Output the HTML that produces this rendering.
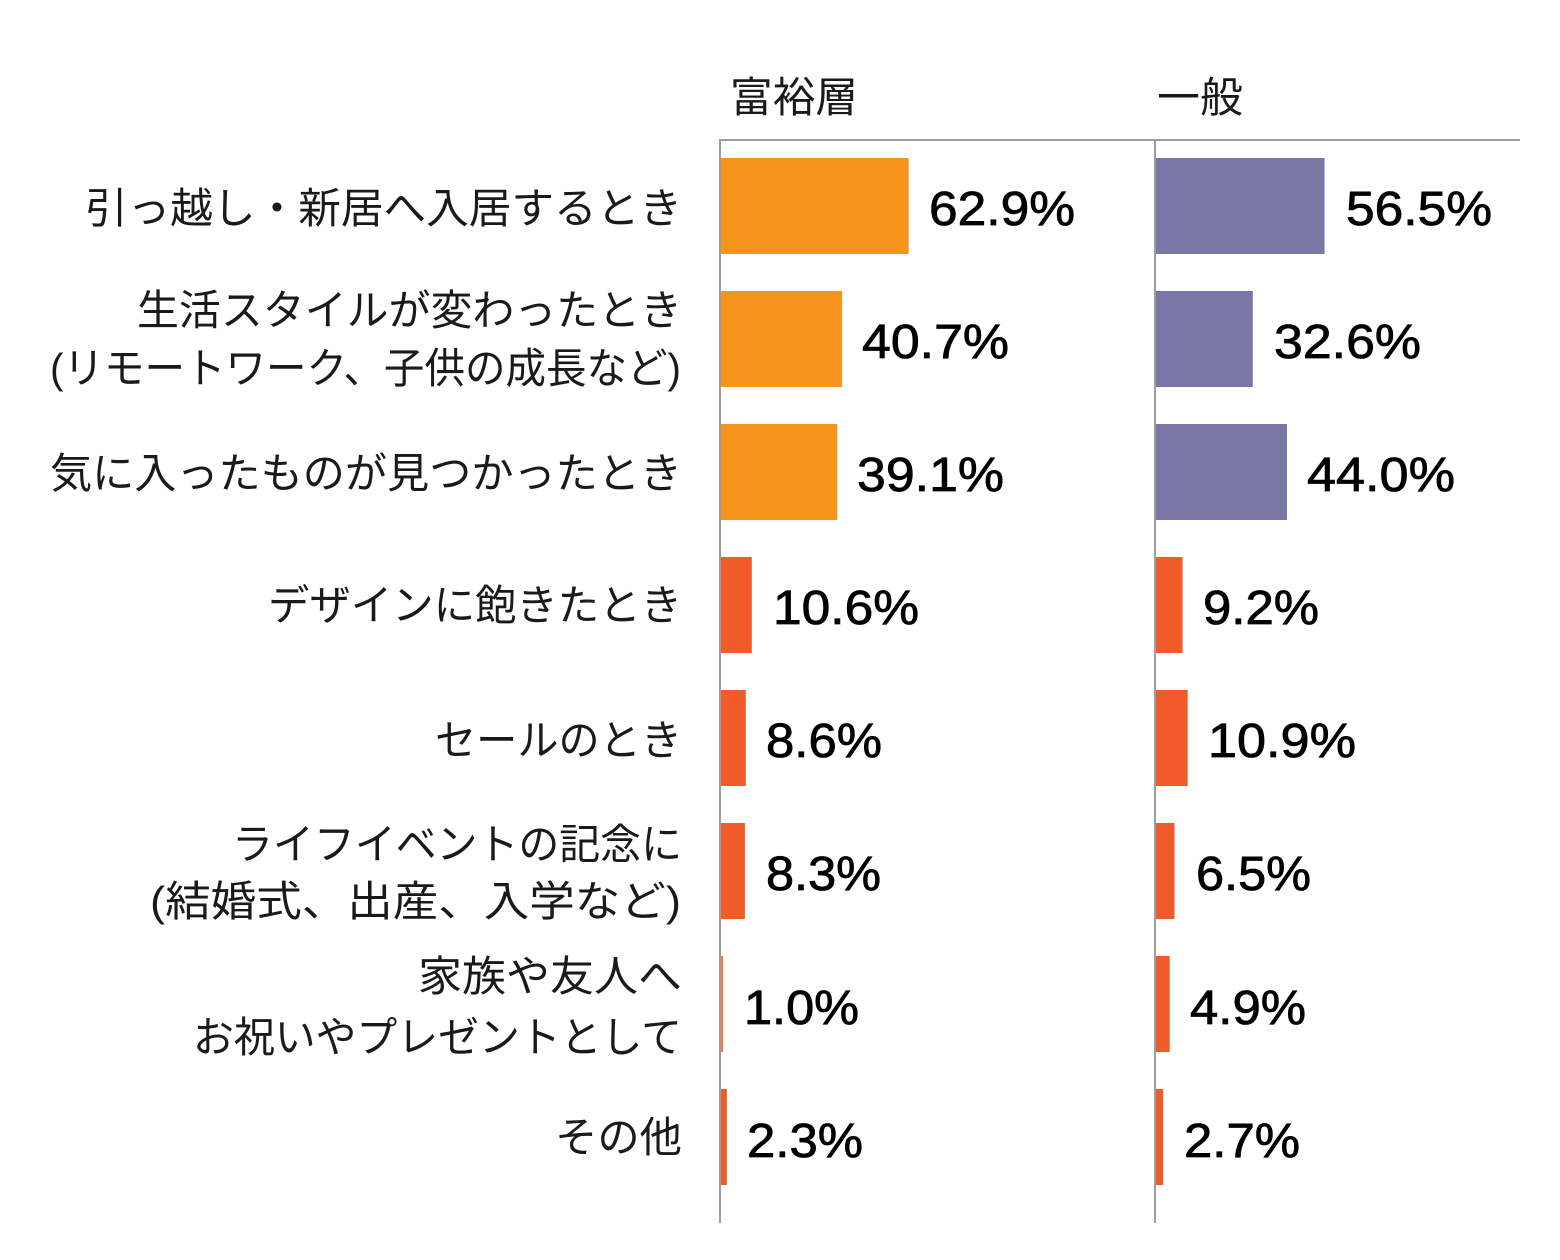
<!DOCTYPE html>
<html>
<head>
<meta charset="utf-8">
<style>
html,body{margin:0;padding:0;background:#fff;}
svg{display:block;}
.lab{font-family:"Liberation Sans","Noto Sans CJK JP",sans-serif;font-size:42px;fill:#1a1a1a;}
.val{font-family:"Liberation Sans",sans-serif;font-size:48px;fill:#000;stroke:#000;stroke-width:0.8px;}
</style>
</head>
<body>
<svg width="1560" height="1260" viewBox="0 0 1560 1260" xmlns="http://www.w3.org/2000/svg">
<rect x="0" y="0" width="1560" height="1260" fill="#fff"/>

<!-- headers -->
<text class="lab" x="730" y="112" textLength="128" lengthAdjust="spacingAndGlyphs">富裕層</text>
<text class="lab" x="1157" y="112" textLength="86" lengthAdjust="spacingAndGlyphs">一般</text>

<!-- left group bars (富裕層) -->
<rect x="721" y="158" width="187.7" height="96" fill="#F7941E"/>
<rect x="721" y="291" width="121.1" height="96" fill="#F7941E"/>
<rect x="721" y="424" width="116.3" height="96" fill="#F7941E"/>
<rect x="721" y="557" width="30.8" height="96" fill="#F15A29"/>
<rect x="721" y="690" width="24.8" height="96" fill="#F15A29"/>
<rect x="721" y="823" width="23.9" height="96" fill="#F15A29"/>
<rect x="721" y="956" width="2.2" height="96" fill="#F0764C"/>
<rect x="721" y="1089" width="5.9" height="96" fill="#F15A29"/>

<!-- right group bars (一般) -->
<rect x="1156" y="158" width="168.5" height="96" fill="#7A77A6"/>
<rect x="1156" y="291" width="96.8" height="96" fill="#7A77A6"/>
<rect x="1156" y="424" width="131" height="96" fill="#7A77A6"/>
<rect x="1156" y="557" width="26.6" height="96" fill="#F15A29"/>
<rect x="1156" y="690" width="31.7" height="96" fill="#F15A29"/>
<rect x="1156" y="823" width="18.5" height="96" fill="#F15A29"/>
<rect x="1156" y="956" width="13.7" height="96" fill="#F15A29"/>
<rect x="1156" y="1089" width="7.1" height="96" fill="#F15A29"/>

<!-- axes -->
<line x1="720" y1="140" x2="1520" y2="140" stroke="#9e9e9e" stroke-width="2"/>
<line x1="720" y1="139" x2="720" y2="1223" stroke="#9e9e9e" stroke-width="2"/>
<line x1="1155" y1="139" x2="1155" y2="1223" stroke="#9e9e9e" stroke-width="2"/>

<!-- category labels -->
<text class="lab" x="682" y="223" text-anchor="end" textLength="597" lengthAdjust="spacingAndGlyphs">引っ越し・新居へ入居するとき</text>
<text class="lab" x="682" y="325" text-anchor="end" textLength="545" lengthAdjust="spacingAndGlyphs">生活スタイルが変わったとき</text>
<text class="lab" x="681" y="383" text-anchor="end" textLength="631" lengthAdjust="spacingAndGlyphs">(リモートワーク、子供の成長など)</text>
<text class="lab" x="682" y="488" text-anchor="end" textLength="632" lengthAdjust="spacingAndGlyphs">気に入ったものが見つかったとき</text>
<text class="lab" x="682" y="620" text-anchor="end" textLength="414" lengthAdjust="spacingAndGlyphs">デザインに飽きたとき</text>
<text class="lab" x="682" y="755" text-anchor="end" textLength="247" lengthAdjust="spacingAndGlyphs">セールのとき</text>
<text class="lab" x="682" y="859" text-anchor="end" textLength="450" lengthAdjust="spacingAndGlyphs">ライフイベントの記念に</text>
<text class="lab" x="681" y="916" text-anchor="end" textLength="531" lengthAdjust="spacingAndGlyphs">(結婚式、出産、入学など)</text>
<text class="lab" x="682" y="991" text-anchor="end" textLength="264" lengthAdjust="spacingAndGlyphs">家族や友人へ</text>
<text class="lab" x="682" y="1052" text-anchor="end" textLength="489" lengthAdjust="spacingAndGlyphs">お祝いやプレゼントとして</text>
<text class="lab" x="682" y="1152" text-anchor="end" textLength="127" lengthAdjust="spacingAndGlyphs">その他</text>

<!-- values left -->
<text class="val" x="929" y="225" textLength="146" lengthAdjust="spacingAndGlyphs">62.9%</text>
<text class="val" x="862" y="358" textLength="147" lengthAdjust="spacingAndGlyphs">40.7%</text>
<text class="val" x="857" y="491" textLength="147" lengthAdjust="spacingAndGlyphs">39.1%</text>
<text class="val" x="773" y="624" textLength="146" lengthAdjust="spacingAndGlyphs">10.6%</text>
<text class="val" x="766" y="757" textLength="116" lengthAdjust="spacingAndGlyphs">8.6%</text>
<text class="val" x="766" y="890" textLength="115" lengthAdjust="spacingAndGlyphs">8.3%</text>
<text class="val" x="744" y="1024" textLength="115" lengthAdjust="spacingAndGlyphs">1.0%</text>
<text class="val" x="747" y="1157" textLength="116" lengthAdjust="spacingAndGlyphs">2.3%</text>

<!-- values right -->
<text class="val" x="1346" y="225" textLength="146" lengthAdjust="spacingAndGlyphs">56.5%</text>
<text class="val" x="1274" y="358" textLength="147" lengthAdjust="spacingAndGlyphs">32.6%</text>
<text class="val" x="1307" y="491" textLength="148" lengthAdjust="spacingAndGlyphs">44.0%</text>
<text class="val" x="1203" y="624" textLength="116" lengthAdjust="spacingAndGlyphs">9.2%</text>
<text class="val" x="1208" y="757" textLength="148" lengthAdjust="spacingAndGlyphs">10.9%</text>
<text class="val" x="1196" y="890" textLength="115" lengthAdjust="spacingAndGlyphs">6.5%</text>
<text class="val" x="1190" y="1024" textLength="116" lengthAdjust="spacingAndGlyphs">4.9%</text>
<text class="val" x="1184" y="1157" textLength="116" lengthAdjust="spacingAndGlyphs">2.7%</text>
</svg>
</body>
</html>
